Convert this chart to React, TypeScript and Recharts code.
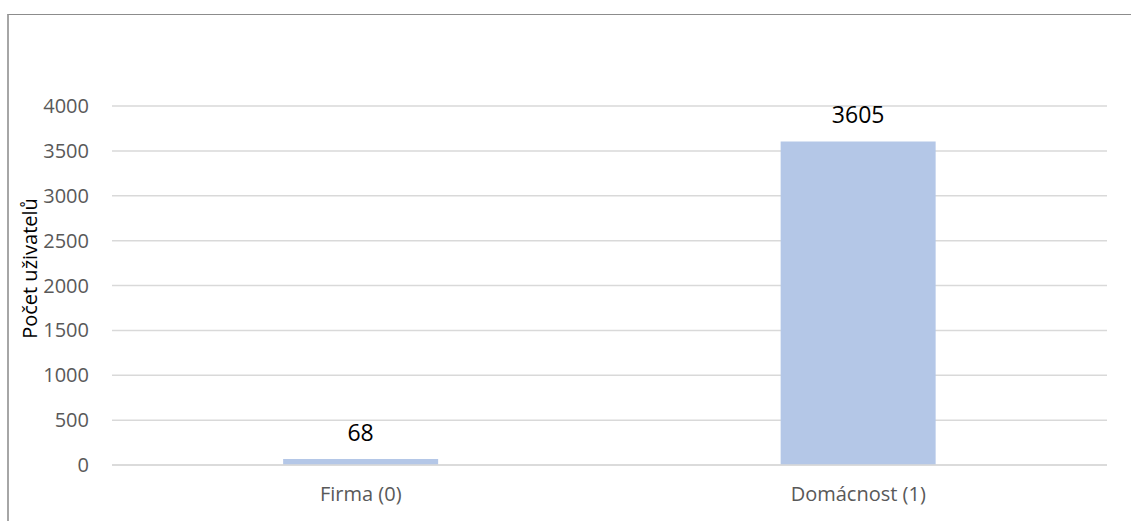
import React from 'react';
import { BarChart, Bar, XAxis, YAxis, CartesianGrid, LabelList } from 'recharts';

const categories = ['Firma (0)', 'Domácnost (1)'];
const userCounts = [68, 3605];
const yTicks = [0, 500, 1000, 1500, 2000, 2500, 3000, 3500, 4000];
const yAxisTitle = 'Počet uživatelů';

const data = categories.map((name, i) => ({ name, value: userCounts[i] }));

const FONT = '"Open Sans", "Noto Sans", sans-serif';

const YTitle = (props: any) => {
  const vb = props.viewBox || { x: 0, y: 0, width: 0, height: 0 };
  const cx = vb.x + 29;
  const cy = vb.y + vb.height / 2 - 17;
  return (
    <text
      x={cx}
      y={cy}
      transform={`rotate(-90, ${cx}, ${cy})`}
      textAnchor="middle"
      dominantBaseline="central"
      fill="#000"
      fontSize={20}
      fontFamily={FONT}
    >
      {yAxisTitle}
    </text>
  );
};

export default function App() {
  return (
    <div style={{ position: 'absolute', left: 0, top: 0, width: 1131, height: 521, background: '#fff' }}>
      <div
        style={{
          position: 'absolute',
          left: 7,
          top: 14,
          width: 1124,
          height: 507,
          borderTop: '1px solid #8c8c8c',
          borderLeft: '2px solid #a6a6a6',
          boxSizing: 'border-box',
        }}
      />
      <div style={{ position: 'absolute', left: 0, top: 0 }}>
        <BarChart
          width={1131}
          height={521}
          data={data}
          margin={{ top: 106, right: 24, bottom: 0, left: 0 }}
          barCategoryGap="34.4%"
        >
          <CartesianGrid vertical={false} stroke="#d9d9d9" strokeWidth={1.5} />
          <XAxis
            dataKey="name"
            height={56}
            axisLine={{ stroke: '#d9d9d9', strokeWidth: 1.5 }}
            tickLine={false}
            tickSize={0}
            tickMargin={22}
            tick={{ fill: '#595959', fontSize: 20, fontFamily: FONT }}
          />
          <YAxis
            width={112}
            domain={[0, 4000]}
            ticks={yTicks}
            axisLine={false}
            tickLine={false}
            tickSize={0}
            tickMargin={23}
            tick={{ fill: '#595959', fontSize: 20, fontFamily: FONT }}
            label={<YTitle />}
          />
          <Bar dataKey="value" fill="#B4C7E7" isAnimationActive={false}>
            <LabelList
              dataKey="value"
              position="top"
              offset={18}
              fill="#000"
              fontSize={23}
              fontFamily={FONT}
            />
          </Bar>
        </BarChart>
      </div>
    </div>
  );
}
